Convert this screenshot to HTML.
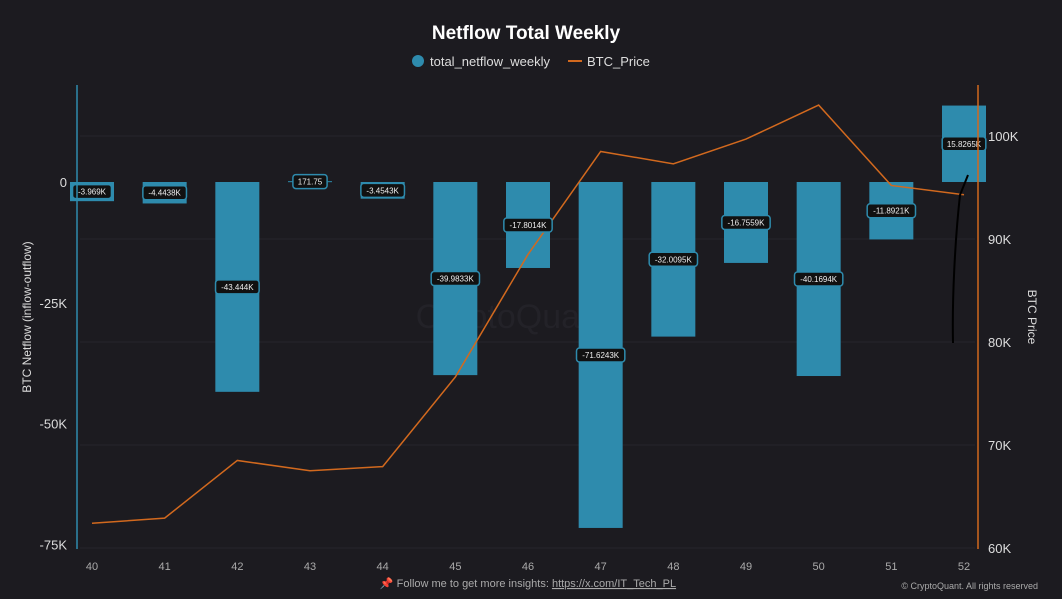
<!DOCTYPE html>
<html><head><meta charset="utf-8"><style>
body{margin:0;background:#1c1b20;font-family:"Liberation Sans",sans-serif;}
svg{display:block}
</style></head><body>
<svg id="c" width="1062" height="599" viewBox="0 0 1062 599">
<rect width="1062" height="599" fill="#1c1b20"/>
<text x="526" y="39" text-anchor="middle" fill="#fff" font-size="19" font-weight="bold">Netflow Total Weekly</text>
<g>
<circle cx="418" cy="61" r="6" fill="#2e8bad"/>
<text x="430" y="66" fill="#ddd" font-size="13">total_netflow_weekly</text>
<line x1="568" y1="61" x2="582" y2="61" stroke="#d2691e" stroke-width="2"/>
<text x="587" y="66" fill="#ddd" font-size="13">BTC_Price</text>
</g>
<text x="512" y="328" text-anchor="middle" fill="#232228" font-size="34">CryptoQuant</text>
<g id="grid"></g>
<g id="bars"></g>
<g id="line"></g>
<g id="labels"></g>
<line x1="77" y1="85" x2="77" y2="549" stroke="#2e8bad" stroke-width="1.5"/>
<line x1="978" y1="85" x2="978" y2="549" stroke="#d2691e" stroke-width="1.5"/>
<g id="ticks"></g>
<text transform="translate(31,317) rotate(-90)" text-anchor="middle" fill="#ddd" font-size="12">BTC Netflow (inflow-outflow)</text>
<text transform="translate(1028,317) rotate(90)" text-anchor="middle" fill="#ddd" font-size="12">BTC Price</text>
<path d="M953,343 C952,300 955,240 960,195 L968,175" stroke="#000" stroke-width="2" fill="none"/>
<text x="528" y="587" text-anchor="middle" fill="#aaa" font-size="11">📌 Follow me to get more insights: <tspan text-decoration="underline">https://x.com/IT_Tech_PL</tspan></text>
<text x="1038" y="589" text-anchor="end" fill="#aaa" font-size="9">© CryptoQuant. All rights reserved</text>
</svg>
<script>
const weeks=[40,41,42,43,44,45,46,47,48,49,50,51,52];
const netflow=[-3.969,-4.4438,-43.444,0.17175,-3.4543,-39.9833,-17.8014,-71.6243,-32.0095,-16.7559,-40.1694,-11.8921,15.8265];
const netflowLabels=["-3.969K","-4.4438K","-43.444K","171.75","-3.4543K","-39.9833K","-17.8014K","-71.6243K","-32.0095K","-16.7559K","-40.1694K","-11.8921K","15.8265K"];
const price=[62.4,62.9,68.5,67.5,67.9,76.6,88.5,98.5,97.3,99.7,103,95.2,94.3];
const leftTicks=[0,-25,-50,-75];
const leftTickLabels=["0","-25K","-50K","-75K"];
const rightTicks=[100,90,80,70,60];
const rightTickLabels=["100K","90K","80K","70K","60K"];
const NS="http://www.w3.org/2000/svg";
const xs=i=>92+i*(964-92)/12;
const yL=v=>182-v*4.83;
const yR=v=>548-(v-60)*10.3;
function mk(p,t,a){const e=document.createElementNS(NS,t);for(const k in a)e.setAttribute(k,a[k]);document.getElementById(p).appendChild(e);return e;}
rightTicks.forEach((v,i)=>{
 const g=mk('grid','line',{x1:80,x2:975,y1:yR(v),y2:yR(v),stroke:'#26252b'});
 
 
 const t=mk('ticks','text',{x:988,y:yR(v)+5,fill:'#ddd','font-size':13});
 t.textContent=rightTickLabels[i];
 
 
});
leftTicks.forEach((v,i)=>{
 const t=mk('ticks','text',{x:67,y:yL(v)+5,fill:'#ddd','font-size':13,'text-anchor':'end'});
 t.textContent=leftTickLabels[i];
 
 
});
weeks.forEach((w,i)=>{
 const t=mk('ticks','text',{x:xs(i),y:570,fill:'#aaa','font-size':11,'text-anchor':'middle'});
 t.textContent=w;
 
 
 const v=netflow[i],y0=yL(0),y1=yL(v);
 const b=mk('bars','rect',{x:xs(i)-22,y:Math.min(y0,y1),width:44,height:Math.max(1,Math.abs(y1-y0)),fill:'#2e8bad'});
 
 
 const my=(y0+y1)/2, txt=netflowLabels[i], wd=txt.length*4.7+6;
 const r=mk('labels','rect',{x:xs(i)-wd/2,y:my-7,width:wd,height:14,rx:3,fill:'#111',stroke:'#2e8bad','stroke-width':1.5});
 
 
 const lt=mk('labels','text',{x:xs(i),y:my+3,fill:'#eee','font-size':8,'text-anchor':'middle'});
 lt.textContent=txt;
 
 
});
const pl=mk('line','polyline',{points:price.map((p,i)=>xs(i)+','+yR(p)).join(' '),fill:'none',stroke:'#d2691e','stroke-width':1.5});


</script>
</body></html>
